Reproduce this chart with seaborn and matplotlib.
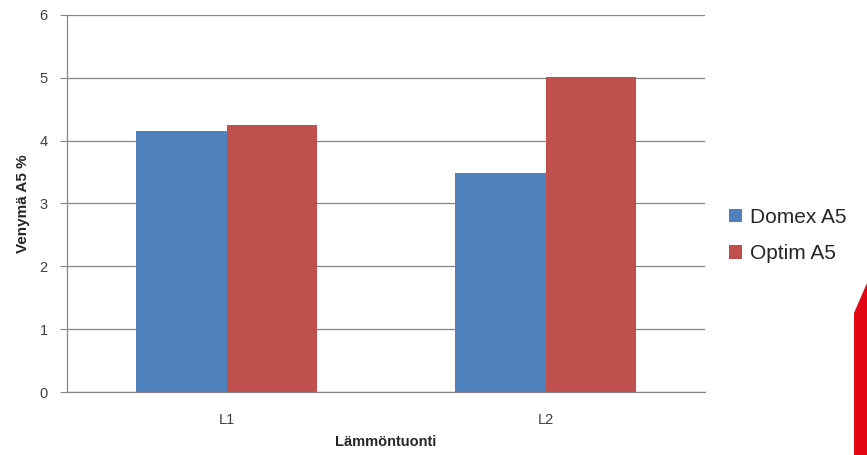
import matplotlib
matplotlib.use("Agg")
import matplotlib.pyplot as plt
import seaborn as sns
import pandas as pd
from matplotlib.patches import Polygon

categories = ["L1", "L2"]
series_names = ["Domex A5", "Optim A5"]
domex = [4.15, 3.48]
optim = [4.25, 5.02]
colors = ["#4F81BD", "#C0504D"]

df = pd.DataFrame({
    "cat": categories * 2,
    "series": [series_names[0]] * 2 + [series_names[1]] * 2,
    "val": domex + optim,
})

sns.set_style("white")
plt.rcParams["font.family"] = ["Liberation Sans", "DejaVu Sans"]

W, H = 867, 455
fig = plt.figure(figsize=(W / 100, H / 100), dpi=100)
ax = fig.add_axes([67 / W, (H - 392) / H, (705 - 67) / W, (392 - 15) / H])

sns.barplot(data=df, x="cat", y="val", hue="series", palette=colors,
            width=0.57, gap=0, saturation=1, ax=ax, legend=True,
            errorbar=None, linewidth=0)

ax.set_ylim(0, 6)
ax.set_xlim(-0.5, 1.5)
ax.set_yticks(range(0, 7))
ax.yaxis.grid(True, color="#868686", linewidth=0.9)
ax.set_axisbelow(True)
for s in ["top", "right"]:
    ax.spines[s].set_visible(False)
ax.spines["left"].set_color("#868686")
ax.spines["bottom"].set_color("#868686")
ax.spines["left"].set_linewidth(0.9)
ax.spines["bottom"].set_linewidth(0.9)
ax.tick_params(axis="y", length=5, color="#868686", labelsize=10.5, pad=9, left=True)
ax.tick_params(axis="x", length=0, labelsize=10.5, pad=15)
for t in ax.get_yticklabels() + ax.get_xticklabels():
    t.set_color("#404040")

ax.set_xlabel("Lämmöntuonti", fontsize=10.5, fontweight="bold", labelpad=6)
ax.set_ylabel("Venymä A5 %", fontsize=11, fontweight="bold", labelpad=7)

leg = ax.legend(loc="center left", bbox_to_anchor=(1.037, 0.415), frameon=False,
                fontsize=15, handlelength=0.62, handleheight=0.62,
                handletextpad=0.4, labelspacing=0.85,
                borderaxespad=0, borderpad=0)

fig.patches.append(Polygon([[854 / W, 0], [854 / W, (H - 313) / H],
                            [1, (H - 283) / H], [1, 0]],
                           closed=True, transform=fig.transFigure,
                           facecolor="#E30613", edgecolor="none"))

fig.savefig("out.png", dpi=100)
